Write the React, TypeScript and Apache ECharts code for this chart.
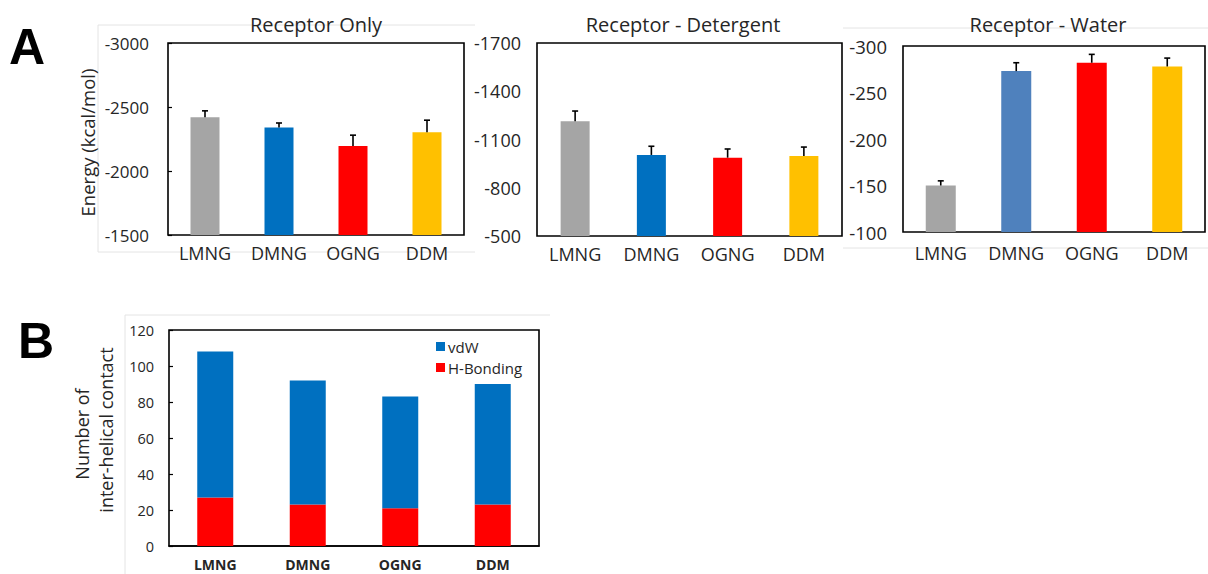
import React, { useEffect, useRef } from "react";
import * as echarts from "echarts";

const categories = ["LMNG", "DMNG", "OGNG", "DDM"];

const receptorOnly = [-2420, -2340, -2195, -2302];
const receptorOnlyErr = [50, 35, 85, 95];

const receptorDetergent = [-1213, -1004, -987, -997];
const receptorDetergentErr = [64, 54, 54, 56];

const receptorWater = [-150, -273, -282, -278];
const receptorWaterErr = [5, 9, 9, 9];

const hBonding = [27, 23, 21, 23];
const vdW = [81, 69, 62, 67];

const colorsA = ["#a5a5a5", "#0070c0", "#ff0000", "#ffc000"];
const colorsWater = ["#a5a5a5", "#4f81bd", "#ff0000", "#ffc000"];

const FONT = "Open Sans";
const TXT = "#262626";

function errSeries(idx: number, vals: number[], errs: number[]) {
  return {
    type: "custom",
    xAxisIndex: idx,
    yAxisIndex: idx,
    z: 5,
    clip: false,
    data: vals.map((v, i) => [i, v, errs[i]]),
    encode: { x: 0, y: 1 },
    renderItem: (params: any, api: any) => {
      const x = api.value(0);
      const v = api.value(1);
      const e = api.value(2);
      const p1 = api.coord([x, v]);
      const p2 = api.coord([x, v - e]);
      return {
        type: "group",
        children: [
          { type: "line", shape: { x1: p1[0], y1: p1[1], x2: p2[0], y2: p2[1] }, style: { stroke: "#000", lineWidth: 1.6 } },
          { type: "line", shape: { x1: p2[0] - 3, y1: p2[1], x2: p2[0] + 3, y2: p2[1] }, style: { stroke: "#000", lineWidth: 1.6 } },
        ],
      };
    },
  };
}

function barSeries(idx: number, vals: number[], colors: string[], width: number) {
  return {
    type: "bar",
    xAxisIndex: idx,
    yAxisIndex: idx,
    barWidth: width,
    clip: true,
    data: vals.map((v, i) => ({ value: v, itemStyle: { color: colors[i] } })),
  };
}

export default function App() {
  const ref = useRef<HTMLDivElement>(null);
  useEffect(() => {
    if (!ref.current) return;
    const chart = echarts.init(ref.current, null, { renderer: "svg" });
    const grids = [
      { left: 168, top: 43, width: 296, height: 192 },
      { left: 537, top: 43, width: 305, height: 193 },
      { left: 903, top: 46, width: 302, height: 186 },
      { left: 169, top: 330, width: 370, height: 216 },
    ].map((g) => ({ ...g, show: true, borderColor: "#000", borderWidth: 1.6, backgroundColor: "transparent", containLabel: false }));

    const xAxisBase = (idx: number, size: number, margin: number, bold = false) => ({
      type: "category",
      gridIndex: idx,
      data: categories,
      axisLine: { show: idx === 3, lineStyle: { color: "#000", width: 1.6 } },
      axisTick: { show: false },
      axisLabel: { color: TXT, fontSize: size, fontFamily: FONT, margin, fontWeight: bold ? "bold" : "normal" },
    });
    const yAxisBase = (idx: number, min: number, max: number, interval: number, size: number, margin: number, inverse: boolean, ticks: boolean) => ({
      type: "value",
      gridIndex: idx,
      min,
      max,
      interval,
      inverse,
      startValue: inverse ? max : 0,
      splitLine: { show: false },
      axisLine: { show: false },
      axisTick: { show: ticks, inside: true, length: 4, lineStyle: { color: "#000", width: 1.2 } },
      axisLabel: { color: TXT, fontSize: size, fontFamily: FONT, margin, formatter: (v: number) => String(v) },
    });

    const faint = { stroke: "#e4e4e4", lineWidth: 1 };

    chart.setOption({
      animation: false,
      backgroundColor: "#fff",
      grid: grids,
      xAxis: [xAxisBase(0, 18, 9), xAxisBase(1, 18, 9), xAxisBase(2, 18, 12), xAxisBase(3, 14, 11, true)],
      yAxis: [
        yAxisBase(0, -3000, -1500, 500, 17, 19, true, true),
        yAxisBase(1, -1700, -500, 300, 18, 16, true, false),
        yAxisBase(2, -300, -100, 50, 18.5, 16, true, false),
        yAxisBase(3, 0, 120, 20, 14.5, 15, false, true),
      ],
      legend: {
        data: ["vdW", "H-Bonding"],
        orient: "vertical",
        left: 436,
        top: 339,
        padding: 0,
        icon: "rect",
        itemWidth: 9,
        itemHeight: 9,
        itemGap: 6,
        textStyle: { color: TXT, fontSize: 15, fontFamily: FONT, padding: [0, 0, 0, -2] },
      },
      series: [
        barSeries(0, receptorOnly, colorsA, 29),
        errSeries(0, receptorOnly, receptorOnlyErr),
        barSeries(1, receptorDetergent, colorsA, 29),
        errSeries(1, receptorDetergent, receptorDetergentErr),
        barSeries(2, receptorWater, colorsWater, 30),
        errSeries(2, receptorWater, receptorWaterErr),
        { type: "bar", name: "H-Bonding", xAxisIndex: 3, yAxisIndex: 3, stack: "b", barWidth: 36, data: hBonding, itemStyle: { color: "#ff0000" } },
        { type: "bar", name: "vdW", xAxisIndex: 3, yAxisIndex: 3, stack: "b", barWidth: 36, data: vdW, itemStyle: { color: "#0070c0" } },
      ],
      graphic: [
        { type: "line", shape: { x1: 98, y1: 25, x2: 475, y2: 25 }, style: faint, silent: true },
        { type: "line", shape: { x1: 98, y1: 25, x2: 98, y2: 252 }, style: faint, silent: true },
        { type: "line", shape: { x1: 98, y1: 252, x2: 475, y2: 252 }, style: faint, silent: true },
        { type: "line", shape: { x1: 843, y1: 28, x2: 1208, y2: 28 }, style: faint, silent: true },
        { type: "line", shape: { x1: 843, y1: 248, x2: 1208, y2: 248 }, style: faint, silent: true },
        { type: "line", shape: { x1: 125, y1: 315, x2: 550, y2: 315 }, style: faint, silent: true },
        { type: "line", shape: { x1: 125, y1: 315, x2: 125, y2: 574 }, style: faint, silent: true },
        { type: "text", x: 27, y: 47, style: { text: "A", fontSize: 50, fontWeight: "bold", fontFamily: "Liberation Sans", fill: "#000", align: "center", verticalAlign: "middle" } },
        { type: "text", x: 36, y: 341, style: { text: "B", fontSize: 50, fontWeight: "bold", fontFamily: "Liberation Sans", fill: "#000", align: "center", verticalAlign: "middle" } },
        { type: "text", x: 316, y: 24, style: { text: "Receptor Only", fontSize: 20, fontFamily: FONT, fill: TXT, align: "center", verticalAlign: "middle" } },
        { type: "text", x: 683, y: 24, style: { text: "Receptor - Detergent", fontSize: 20, fontFamily: FONT, fill: TXT, align: "center", verticalAlign: "middle" } },
        { type: "text", x: 1048, y: 24, style: { text: "Receptor - Water", fontSize: 20, fontFamily: FONT, fill: TXT, align: "center", verticalAlign: "middle" } },
        { type: "text", x: 87.5, y: 142.5, rotation: Math.PI / 2, style: { text: "Energy (kcal/mol)", fontSize: 18.5, fontFamily: FONT, fill: TXT, align: "center", verticalAlign: "middle" } },
        { type: "text", x: 82, y: 434, rotation: Math.PI / 2, style: { text: "Number of", fontSize: 18, fontFamily: FONT, fill: TXT, align: "center", verticalAlign: "middle" } },
        { type: "text", x: 106, y: 430, rotation: Math.PI / 2, style: { text: "inter-helical contact", fontSize: 18, fontFamily: FONT, fill: TXT, align: "center", verticalAlign: "middle" } },
      ],
    });
    return () => chart.dispose();
  }, []);
  return <div ref={ref} style={{ position: "fixed", left: 0, top: 0, width: 1208, height: 574 }} />;
}
